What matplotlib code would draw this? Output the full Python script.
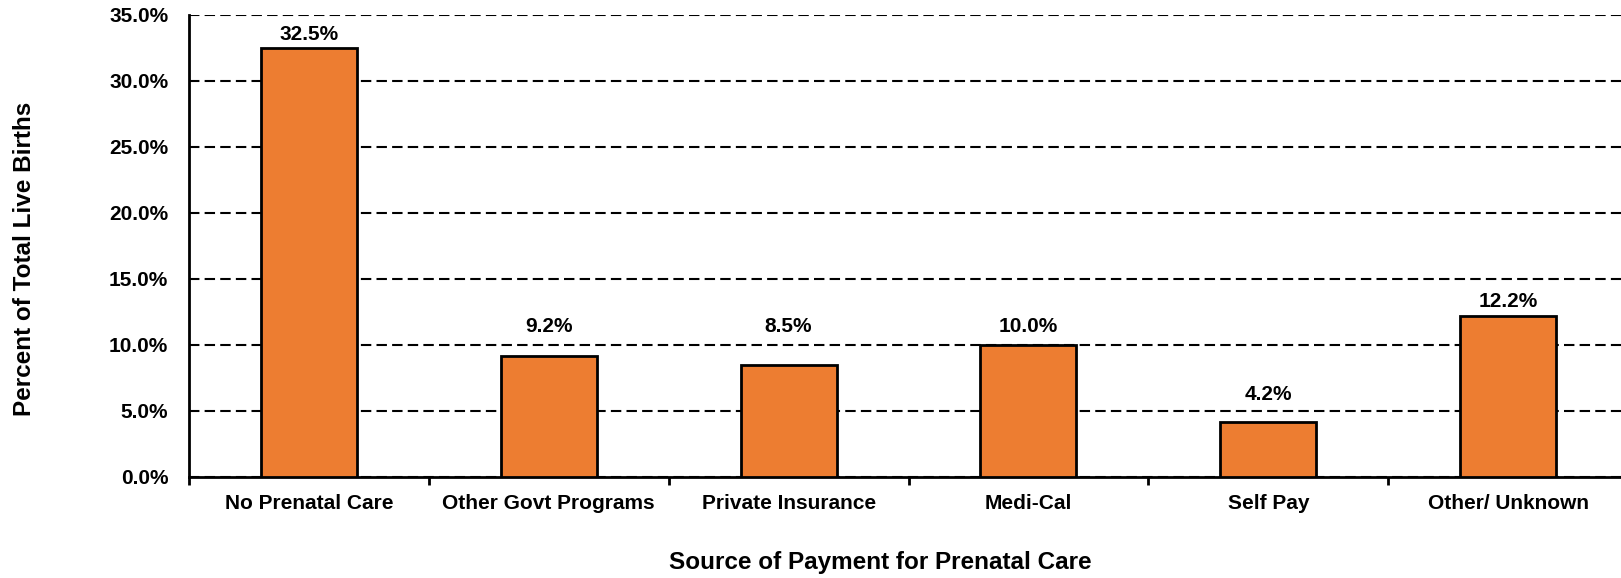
import matplotlib
matplotlib.use("Agg")
import matplotlib.pyplot as plt
import numpy as np
from matplotlib.ticker import FixedLocator, PercentFormatter

plt.rcParams['font.family'] = ['Liberation Sans', 'DejaVu Sans']
plt.rcParams['font.weight'] = 'bold'

# data
categories = ["No Prenatal Care", "Other Govt Programs", "Private Insurance",
              "Medi-Cal", "Self Pay", "Other/ Unknown"]
values = [32.5, 9.2, 8.5, 10.0, 4.2, 12.2]
yticks = [0, 5, 10, 15, 20, 25, 30, 35]

# label lift above each bar (pixels), as placed in the original
label_lift = [14, 29, 38, 18, 27, 14]

W, H = 1621, 578
fig = plt.figure(figsize=(W / 100, H / 100), dpi=100)
ax = fig.add_axes([189 / W, 1 - 477 / H, (1628 - 189) / W, (477 - 15) / H])

x = np.arange(len(categories))
ax.bar(x, values, width=0.4, color="#ED7D31", edgecolor="black", linewidth=2, zorder=3)

for xi, v, lift in zip(x, values, label_lift):
    ax.annotate(f"{v:.1f}%", (xi, v), xytext=(0, lift * 0.72), textcoords="offset points",
                ha="center", va="center", fontsize=15, fontweight="bold")

ax.set_xlim(-0.5, len(categories) - 0.5)
ax.set_ylim(0, 35)
ax.set_yticks(yticks)
ax.yaxis.set_major_formatter(PercentFormatter(decimals=1))
ax.yaxis.grid(True, linestyle=(0, (5, 2.5)), color="black", linewidth=1.5, zorder=0)
ax.tick_params(axis="y", length=0, pad=15, labelsize=15)

# boundary ticks point out, centre ticks point in and carry the labels
ax.xaxis.set_major_locator(FixedLocator(np.arange(len(categories) + 1) - 0.5))
ax.xaxis.set_minor_locator(FixedLocator(x))
ax.set_xticklabels([], minor=False)
ax.set_xticklabels(categories, minor=True)
ax.tick_params(axis="x", which="major", direction="out", length=6, width=2)
ax.tick_params(axis="x", which="minor", direction="in", length=4, width=2,
               labelsize=15, pad=12)

for s in ["top", "right"]:
    ax.spines[s].set_visible(False)
for s in ["left", "bottom"]:
    ax.spines[s].set_linewidth(2)

fig.text(880 / W, 1 - 563 / H, "Source of Payment for Prenatal Care",
         ha="center", va="center", fontsize=17.5, fontweight="bold")
fig.text(25 / W, 1 - 259 / H, "Percent of Total Live Births", rotation=90,
         ha="center", va="center", fontsize=17.5, fontweight="bold")

fig.savefig("out.png", dpi=100)
